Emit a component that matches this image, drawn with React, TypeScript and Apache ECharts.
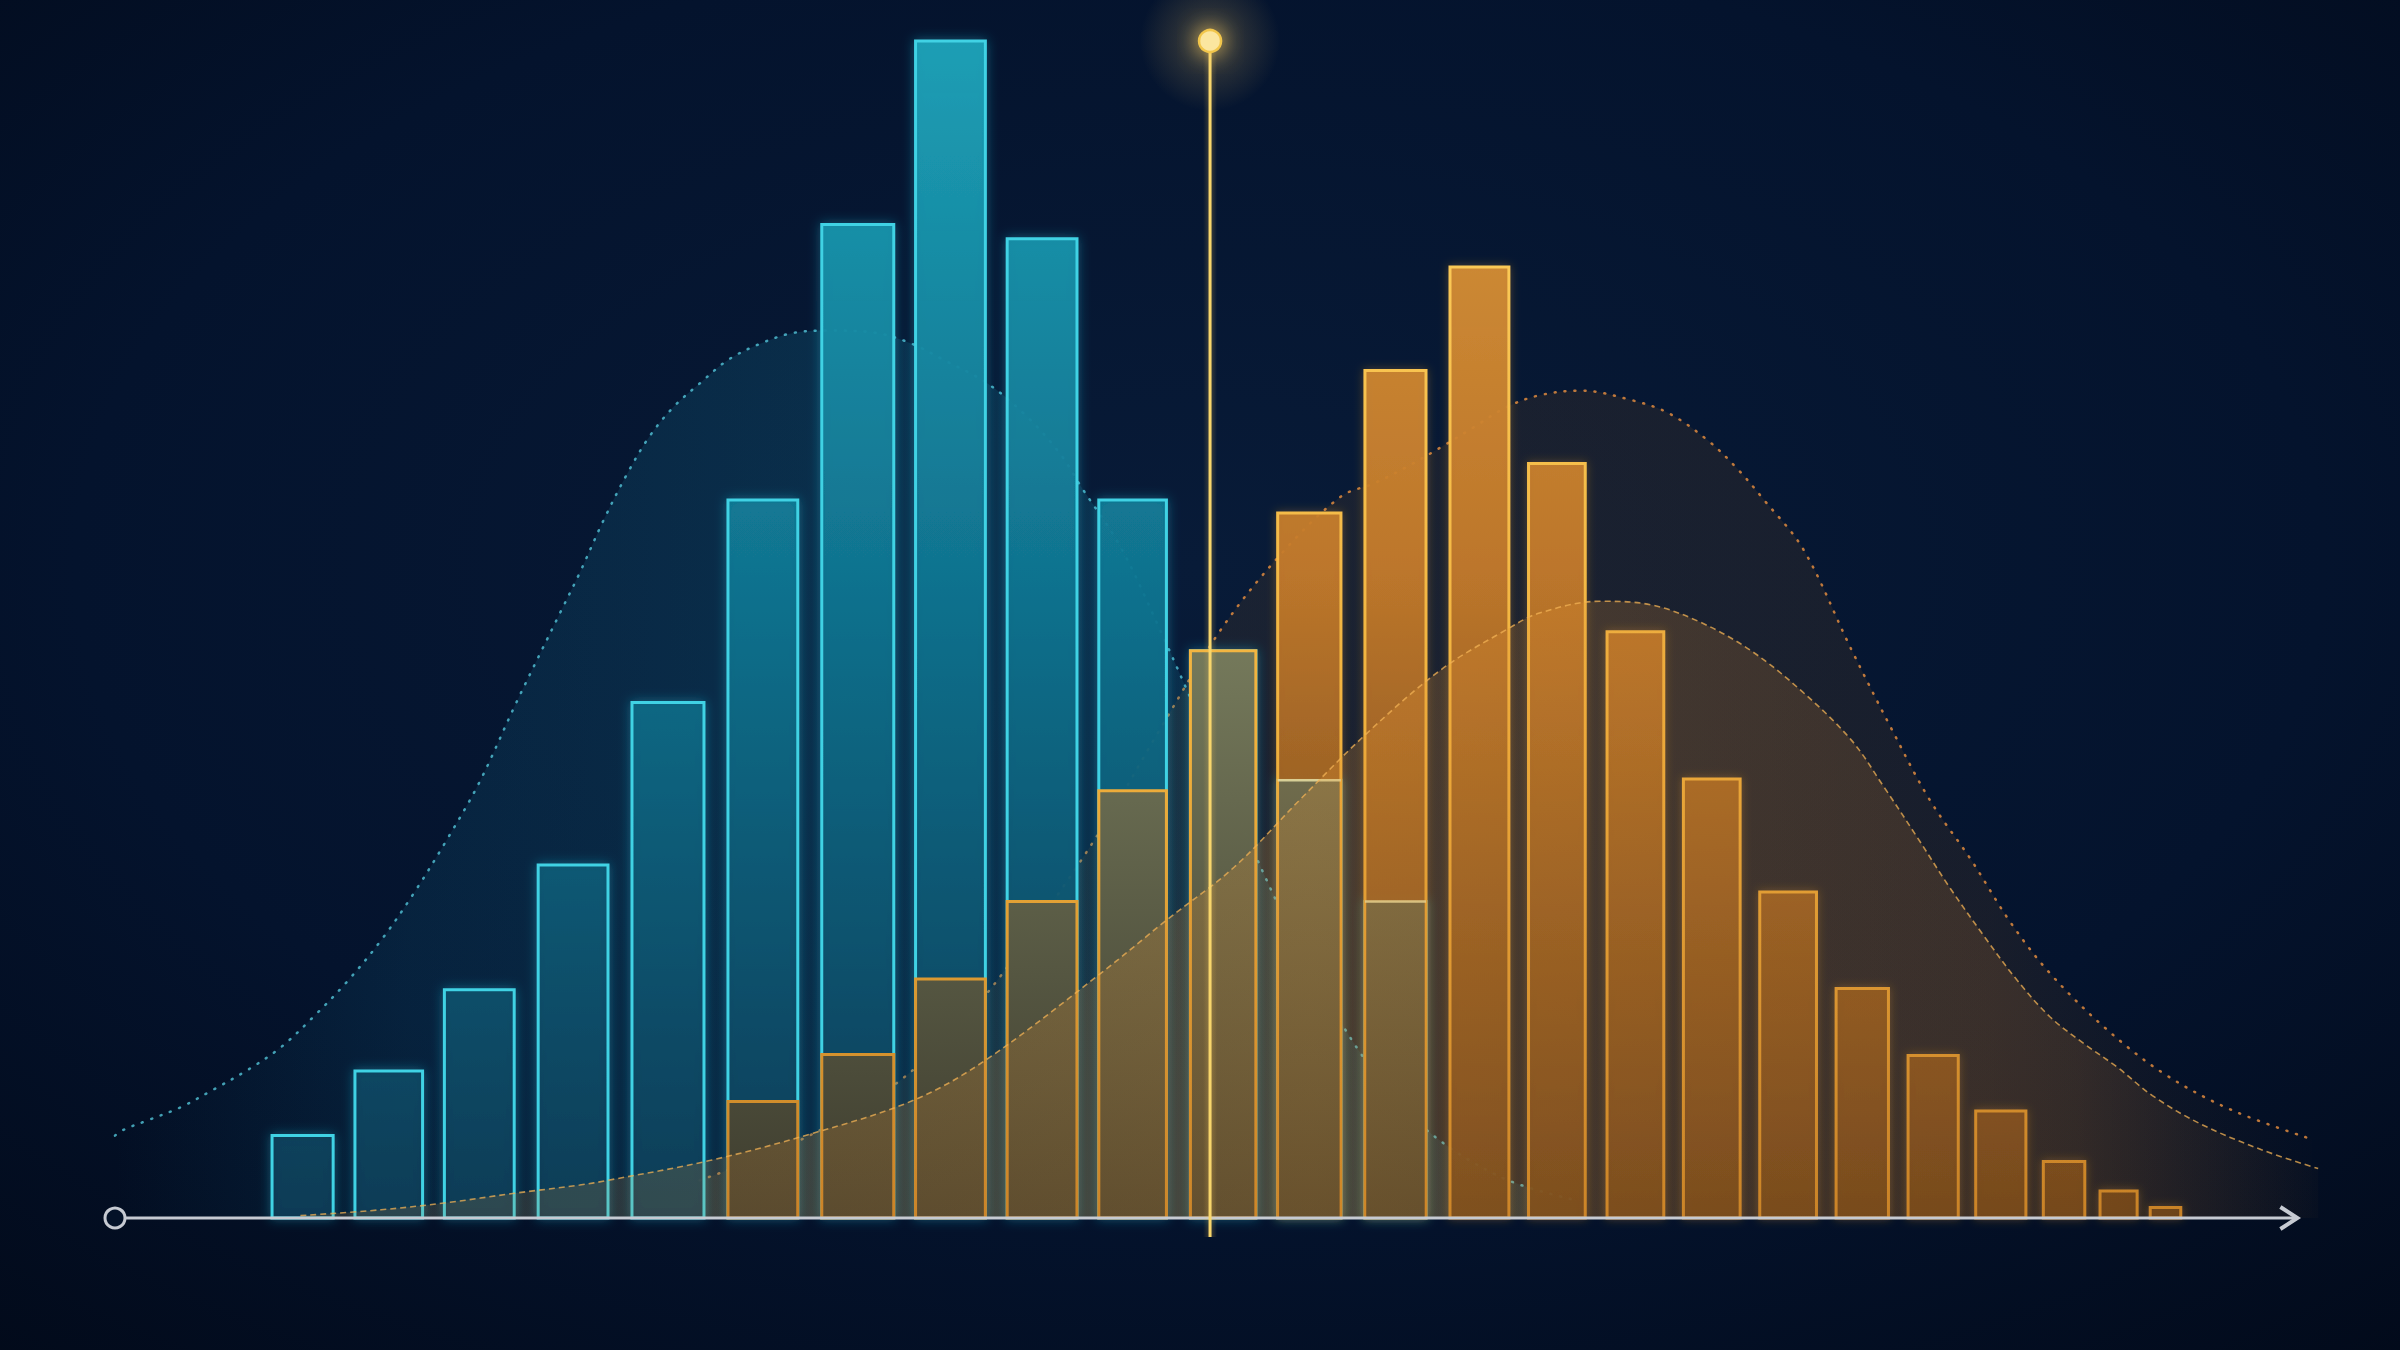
import React, { useEffect, useRef } from "react";
import * as echarts from "echarts";

// Histogram bins on a 0–100 score scale
const binStart = [7.2, 11.0, 15.1, 19.4, 23.7, 28.1, 32.4, 36.7, 40.9, 45.1, 49.3, 53.3, 57.3, 61.2, 64.8, 68.4, 71.9, 75.4, 78.9, 82.2, 85.3, 88.4, 91.0, 93.3];
const binEnd = [10.0, 14.1, 18.3, 22.6, 27.0, 31.3, 35.7, 39.9, 44.1, 48.2, 52.3, 56.2, 60.1, 63.9, 67.4, 71.0, 74.5, 78.0, 81.3, 84.5, 87.6, 90.3, 92.7, 94.7];

// Relative frequency (tallest = 100)
const groupA: (number | null)[] = [7.0, 12.5, 19.4, 30.0, 43.8, 61.0, 84.4, 100, 83.2, 61.0, 48.2, 37.2, 26.9, null, null, null, null, null, null, null, null, null, null, null];
const groupB: (number | null)[] = [null, null, null, null, null, 9.9, 13.9, 20.3, 26.9, 36.3, 48.2, 59.9, 72.0, 80.8, 64.1, 49.8, 37.3, 27.7, 19.5, 13.8, 9.1, 4.8, 2.3, 0.9];

// Density curves
const curveAX = [0.0, 0.4, 1.5, 3.0, 4.5, 6.1, 7.6, 9.1, 10.6, 12.2, 13.7, 15.2, 16.7, 18.4, 20.4, 21.3, 22.4, 23.5, 24.5, 25.6, 26.8, 28.1, 29.6, 31.1, 32.8, 34.9, 36.5, 38.0, 40.0, 41.8, 43.3, 44.3, 46.1, 47.9, 49.8, 52.0, 54.3, 57.1, 59.8, 63.5, 67.0];
const curveAY = [7.0, 7.5, 8.3, 9.4, 10.9, 12.6, 14.5, 17.1, 20.0, 23.6, 27.6, 32.1, 37.0, 43.8, 51.4, 54.8, 59.3, 63.3, 66.4, 68.9, 70.9, 72.9, 74.3, 75.2, 75.4, 75.2, 74.3, 72.9, 70.9, 68.1, 65.0, 62.1, 57.0, 50.0, 42.0, 32.0, 23.0, 14.0, 8.0, 3.5, 1.5];

const curveBX = [8.5, 12.2, 15.2, 18.3, 21.3, 22.6, 27.3, 32.0, 36.6, 39.9, 45.2, 48.2, 51.3, 54.3, 57.4, 60.8, 63.8, 65.3, 68.1, 70.4, 72.7, 75.0, 77.3, 79.6, 81.1, 82.6, 84.1, 85.7, 87.2, 88.7, 90.2, 91.8, 93.4, 95.6, 98.4, 101.0];
const curveBY = [0.2, 0.7, 1.3, 2.1, 2.8, 3.2, 4.9, 7.2, 10.0, 13.4, 20.8, 25.3, 29.8, 35.5, 41.2, 46.6, 50.0, 51.4, 52.4, 52.1, 50.6, 48.2, 44.8, 40.6, 36.6, 32.4, 28.1, 23.9, 20.2, 17.1, 14.9, 12.8, 10.4, 8.0, 5.8, 4.2];

const curveCX = [26.8, 31.4, 36.0, 39.7, 42.4, 45.2, 47.9, 50.7, 53.4, 56.2, 57.7, 59.2, 60.8, 62.3, 63.8, 65.3, 67.2, 69.5, 71.2, 73.0, 74.4, 75.6, 77.4, 79.6, 81.4, 83.2, 85.1, 86.9, 88.7, 91.2, 93.9, 97.0, 100.7];
const curveCY = [3.2, 6.6, 11.7, 18.5, 25.3, 33.0, 41.5, 50.0, 56.3, 61.3, 62.4, 63.8, 65.5, 67.2, 68.9, 69.9, 70.3, 69.5, 68.4, 66.1, 63.6, 61.0, 56.8, 48.3, 41.7, 35.5, 30.4, 25.1, 20.8, 16.2, 12.3, 9.2, 6.7];

// Threshold marker and axis extent
const markerScore = 50.2;
const axisStart = 0;
const axisEnd = 100;

const zip = (xs: number[], ys: number[]) => xs.map((x, i) => [x, ys[i]]);

export default function App() {
  const ref = useRef<HTMLDivElement>(null);

  useEffect(() => {
    const chart = echarts.init(ref.current!, null, { renderer: "svg" });

    const gradV = (top: number, bottom: number, stops: [number, string][]) => ({
      type: "linear",
      x: 0,
      y: top,
      x2: 0,
      y2: bottom,
      global: true,
      colorStops: stops.map(([offset, color]) => ({ offset, color })),
    });
    const gradH = (stops: [number, string][]) => ({
      type: "linear",
      x: 0,
      y: 0,
      x2: 1,
      y2: 0,
      colorStops: stops.map(([offset, color]) => ({ offset, color })),
    });

    const dataA = binStart
      .map((s, i) => (groupA[i] == null ? null : [s, binEnd[i], groupA[i] as number]))
      .filter((d) => d !== null) as number[][];
    const dataB = binStart
      .map((s, i) => (groupB[i] == null ? null : [s, binEnd[i], groupB[i] as number, groupA[i] == null ? 0 : (groupA[i] as number)]))
      .filter((d) => d !== null) as number[][];

    const renderA = (params: any, api: any) => {
      const top = api.coord([0, 100])[1];
      const base = api.coord([0, 0])[1];
      const p0 = api.coord([api.value(0), api.value(2)]);
      const p1 = api.coord([api.value(1), 0]);
      return {
        type: "rect",
        shape: { x: p0[0], y: p0[1], width: p1[0] - p0[0], height: p1[1] - p0[1] },
        style: {
          fill: gradV(top, base, [
            [0, "rgba(28,162,184,0.95)"],
            [0.45, "rgba(16,116,144,0.92)"],
            [1, "rgba(7,50,78,0.92)"],
          ]),
          stroke: "#3fd2e4",
          lineWidth: 3,
          shadowBlur: 12,
          shadowColor: "rgba(40,190,220,0.4)",
        },
      };
    };

    const renderB = (params: any, api: any) => {
      const top = api.coord([0, 100])[1];
      const base = api.coord([0, 0])[1];
      const v = api.value(2);
      const b = api.value(3);
      const p0 = api.coord([api.value(0), v]);
      const p1 = api.coord([api.value(1), 0]);
      const w = p1[0] - p0[0];
      const strokeGrad = gradV(top, base, [
        [0, "#ffd462"],
        [0.6, "#f0b03c"],
        [1, "#c78226"],
      ]);
      const orangeFill = gradV(top, base, [
        [0, "rgba(224,154,60,0.95)"],
        [0.45, "rgba(196,122,42,0.93)"],
        [1, "rgba(96,58,24,0.92)"],
      ]);
      const oliveFill = gradV(top, base, [
        [0, "rgba(158,162,122,0.96)"],
        [0.5, "rgba(124,124,90,0.95)"],
        [1, "rgba(64,60,44,0.95)"],
      ]);
      const children: any[] = [];
      if (b > 0 && v <= b) {
        children.push({
          type: "rect",
          shape: { x: p0[0], y: p0[1], width: w, height: p1[1] - p0[1] },
          style: { fill: oliveFill, stroke: strokeGrad, lineWidth: 3 },
        });
      } else {
        children.push({
          type: "rect",
          shape: { x: p0[0], y: p0[1], width: w, height: p1[1] - p0[1] },
          style: { fill: orangeFill, stroke: strokeGrad, lineWidth: 3, shadowBlur: 10, shadowColor: "rgba(240,160,50,0.3)" },
        });
        if (b > 0) {
          const pb = api.coord([api.value(0), b]);
          children.push({
            type: "rect",
            shape: { x: p0[0] + 1.5, y: pb[1], width: w - 3, height: p1[1] - pb[1] },
            style: { fill: oliveFill },
          });
          children.push({
            type: "line",
            shape: { x1: p0[0], y1: pb[1], x2: p1[0], y2: pb[1] },
            style: { stroke: "rgba(225,218,160,0.9)", lineWidth: 2.5 },
          });
        }
      }
      return { type: "group", children };
    };

    const renderAxis = (params: any, api: any) => {
      const s = api.coord([api.value(0), 0]);
      const e = api.coord([api.value(1), 0]);
      const col = "#c6cad2";
      return {
        type: "group",
        children: [
          { type: "line", shape: { x1: s[0] + 11, y1: s[1], x2: e[0], y2: e[1] }, style: { stroke: col, lineWidth: 3 } },
          { type: "circle", shape: { cx: s[0], cy: s[1], r: 10 }, style: { fill: "#041228", stroke: col, lineWidth: 3 } },
          {
            type: "polyline",
            shape: { points: [[e[0] - 16, e[1] - 11], [e[0] + 1, e[1]], [e[0] - 16, e[1] + 11]] },
            style: { stroke: col, lineWidth: 4, fill: "none" },
          },
        ],
      };
    };

    const renderMarker = (params: any, api: any) => {
      const t = api.coord([api.value(0), api.value(1)]);
      const b = api.coord([api.value(0), 0]);
      return {
        type: "group",
        children: [
          {
            type: "circle",
            shape: { cx: t[0], cy: t[1], r: 70 },
            style: {
              fill: {
                type: "radial", x: 0.5, y: 0.5, r: 0.5,
                colorStops: [
                  { offset: 0, color: "rgba(255,205,100,0.26)" },
                  { offset: 1, color: "rgba(255,205,100,0)" },
                ],
              },
            },
          },
          {
            type: "rect",
            shape: { x: t[0] - 7, y: t[1], width: 14, height: b[1] + 19 - t[1] },
            style: {
              fill: {
                type: "linear", x: 0, y: 0, x2: 1, y2: 0,
                colorStops: [
                  { offset: 0, color: "rgba(255,205,90,0)" },
                  { offset: 0.5, color: "rgba(255,205,90,0.22)" },
                  { offset: 1, color: "rgba(255,205,90,0)" },
                ],
              },
            },
          },
          {
            type: "rect",
            shape: { x: t[0] - 1.5, y: t[1], width: 3, height: b[1] + 19 - t[1] },
            style: { fill: "#f8d66c" },
          },
          {
            type: "circle",
            shape: { cx: t[0], cy: t[1], r: 11 },
            style: { fill: "#fbe6a0", stroke: "#f2c64c", lineWidth: 2.5, shadowBlur: 22, shadowColor: "rgba(255,210,100,0.95)" },
          },
        ],
      };
    };

    const option: any = {
      animation: false,
      backgroundColor: {
        type: "radial",
        x: 0.5,
        y: 0.42,
        r: 0.78,
        colorStops: [
          { offset: 0, color: "#081b38" },
          { offset: 0.6, color: "#04132d" },
          { offset: 1, color: "#020a1a" },
        ],
      },
      grid: { left: 115, right: 60, top: 41, bottom: 132 },
      xAxis: { type: "value", min: 0, max: 102, show: false },
      yAxis: { type: "value", min: 0, max: 100, show: false },
      series: [
        {
          type: "line",
          name: "densityB-outer",
          z: 1,
          silent: true,
          smooth: 0.35,
          symbol: "none",
          data: zip(curveCX, curveCY),
          lineStyle: { color: "rgba(222,138,62,0.85)", width: 2.5, type: [1, 9], cap: "round" },
          areaStyle: {
            color: gradH([
              [0, "rgba(92,62,32,0.30)"],
              [0.8, "rgba(92,62,32,0.32)"],
              [1, "rgba(92,62,32,0.02)"],
            ]),
          },
        },
        {
          type: "line",
          name: "densityA",
          z: 2,
          silent: true,
          smooth: 0.35,
          symbol: "none",
          data: zip(curveAX, curveAY),
          lineStyle: { color: "rgba(82,196,216,0.8)", width: 2.5, type: [1, 9], cap: "round" },
          areaStyle: {
            color: gradH([
              [0, "rgba(20,115,150,0)"],
              [0.2, "rgba(20,115,150,0.22)"],
              [0.5, "rgba(22,125,155,0.32)"],
              [1, "rgba(22,125,155,0.2)"],
            ]),
          },
        },
        {
          type: "custom",
          name: "groupA",
          z: 3,
          silent: true,
          renderItem: renderA,
          encode: { x: [0, 1], y: 2 },
          data: dataA,
        },
        {
          type: "custom",
          name: "groupB",
          z: 4,
          silent: true,
          renderItem: renderB,
          encode: { x: [0, 1], y: 2 },
          data: dataB,
        },
        {
          type: "line",
          name: "densityB-inner",
          z: 5,
          silent: true,
          smooth: 0.35,
          symbol: "none",
          data: zip(curveBX, curveBY),
          lineStyle: { color: "rgba(242,178,84,0.75)", width: 1.6, type: [6, 4] },
          areaStyle: {
            color: gradH([
              [0, "rgba(210,130,45,0.2)"],
              [0.5, "rgba(228,148,50,0.34)"],
              [0.88, "rgba(210,130,45,0.24)"],
              [1, "rgba(210,130,45,0.03)"],
            ]),
          },
        },
        {
          type: "custom",
          name: "axis",
          z: 6,
          silent: true,
          renderItem: renderAxis,
          encode: { x: [0, 1] },
          data: [[axisStart, axisEnd]],
        },
        {
          type: "custom",
          name: "marker",
          z: 7,
          silent: true,
          renderItem: renderMarker,
          encode: { x: 0, y: 1 },
          data: [[markerScore, 100]],
        },
      ],
    };

    chart.setOption(option);
    return () => chart.dispose();
  }, []);

  return <div ref={ref} style={{ position: "fixed", left: 0, top: 0, width: 2400, height: 1350 }} />;
}
